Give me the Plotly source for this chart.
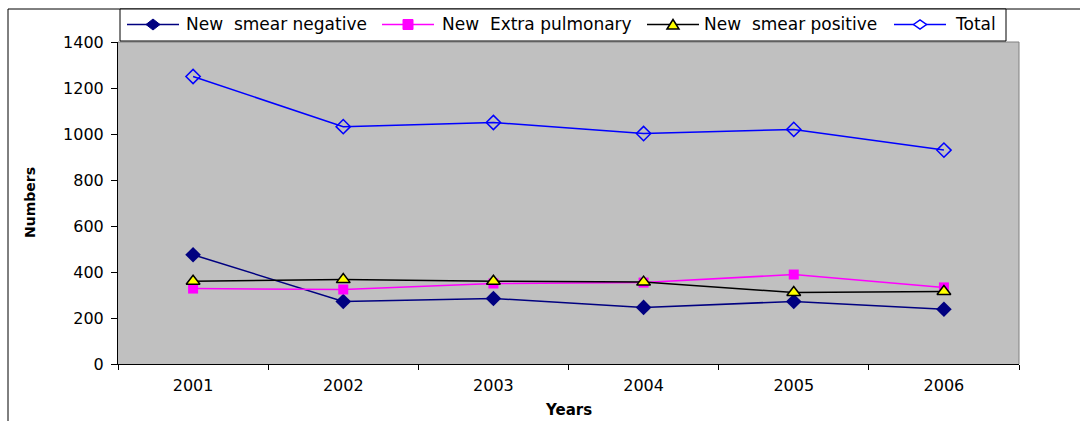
import plotly.graph_objects as go

years = ["2001", "2002", "2003", "2004", "2005", "2006"]
smear_negative = [475, 272, 285, 246, 272, 238]
extra_pulmonary = [328, 324, 350, 354, 389, 333]
smear_positive = [360, 367, 360, 356, 311, 315]
total = [1250, 1032, 1050, 1002, 1020, 930]
y_ticks = [0, 200, 400, 600, 800, 1000, 1200, 1400]
series_names = ["New  smear negative", "New  Extra pulmonary", "New  smear positive", "Total"]

W, H = 1080, 421
L, R, T, B = 118, 61, 42, 57
pw = W - L - R
ph = H - T - B

def px(x):
    return (x - L) / pw

def py(y):
    return (H - B - y) / ph

FONT = "DejaVu Sans, Verdana, sans-serif"

colors = ["#000080", "#FF00FF", "#000000", "#0000FF"]

fig = go.Figure()
fig.add_trace(go.Scatter(
    x=years, y=smear_negative, name=series_names[0], mode="lines+markers",
    line=dict(color=colors[0], width=1.5),
    marker=dict(symbol="diamond", size=12, color=colors[0])))
fig.add_trace(go.Scatter(
    x=years, y=extra_pulmonary, name=series_names[1], mode="lines+markers",
    line=dict(color=colors[1], width=1.5),
    marker=dict(symbol="square", size=10, color=colors[1])))
fig.add_trace(go.Scatter(
    x=years, y=smear_positive, name=series_names[2], mode="lines+markers",
    line=dict(color=colors[2], width=1.5),
    marker=dict(symbol="triangle-up", size=12, color="#FFFF00",
                line=dict(color="#000000", width=1.5))))
fig.add_trace(go.Scatter(
    x=years, y=total, name=series_names[3], mode="lines+markers",
    line=dict(color=colors[3], width=1.5),
    marker=dict(symbol="diamond-open", size=11, color=colors[3],
                line=dict(width=1.5))))

shapes = [
    # outer frame (left and top)
    dict(type="line", xref="paper", yref="paper", x0=px(8), x1=px(8), y0=py(9), y1=py(H + 2),
         line=dict(color="black", width=1)),
    dict(type="line", xref="paper", yref="paper", x0=px(8), x1=px(W + 2), y0=py(9), y1=py(9),
         line=dict(color="black", width=1)),
    # plot area top/right edges
    dict(type="line", xref="paper", yref="paper", x0=0, x1=1, y0=1, y1=1,
         line=dict(color="#808080", width=1)),
    dict(type="line", xref="paper", yref="paper", x0=1, x1=1, y0=0, y1=1,
         line=dict(color="#808080", width=1)),
    # legend box
    dict(type="rect", xref="paper", yref="paper", x0=px(120), x1=px(1006), y0=py(41), y1=py(9),
         line=dict(color="black", width=1), fillcolor="white"),
]

# custom legend (symbol line start px, text start px)
leg_y = 24.5
leg_items = [(127, 186), (382, 442), (647, 704), (894, 955)]
marker_paths = [
    "M -7 0 L 0 5.5 L 7 0 L 0 -5.5 Z",        # filled diamond
    "M -5 -5 L 5 -5 L 5 5 L -5 5 Z",          # square
    "M -6 -4.5 L 0 5 L 6 -4.5 Z",             # triangle up
    "M -6.5 0 L 0 4.5 L 6.5 0 L 0 -4.5 Z",    # open diamond
]
marker_fill = [colors[0], colors[1], "#FFFF00", "white"]
marker_line = [colors[0], colors[1], "#000000", colors[3]]
marker_lw = [1, 1, 1.5, 1.5]

annotations = []
for i, (ls, ts) in enumerate(leg_items):
    shapes.append(dict(type="line", xref="paper", yref="paper",
                       x0=px(ls), x1=px(ls + 52), y0=py(leg_y), y1=py(leg_y),
                       line=dict(color=colors[i], width=1.5)))
    shapes.append(dict(type="path", xref="paper", yref="paper",
                       xsizemode="pixel", ysizemode="pixel",
                       xanchor=px(ls + 26), yanchor=py(leg_y),
                       path=marker_paths[i], fillcolor=marker_fill[i],
                       line=dict(color=marker_line[i], width=marker_lw[i])))
    annotations.append(dict(text=series_names[i], xref="paper", yref="paper",
                            x=px(ts - 2), y=py(leg_y), xanchor="left", yanchor="middle",
                            showarrow=False, font=dict(family=FONT, size=17, color="black")))

annotations += [
    dict(text="<b>Numbers</b>", xref="paper", yref="paper", x=px(30), y=0.5,
         textangle=-90, showarrow=False, font=dict(family=FONT, size=14, color="black"),
         xanchor="center", yanchor="middle"),
    dict(text="<b>Years</b>", xref="paper", yref="paper", x=px(568), y=py(410),
         showarrow=False, font=dict(family=FONT, size=15, color="black"),
         xanchor="center", yanchor="middle"),
]

fig.update_layout(
    width=W, height=H,
    margin=dict(l=L, r=R, t=T, b=B),
    paper_bgcolor="white",
    plot_bgcolor="#C0C0C0",
    font=dict(family=FONT, size=16, color="black"),
    showlegend=False,
    shapes=shapes,
    annotations=annotations,
    xaxis=dict(type="category", range=[-0.5, 5.5], showgrid=False, zeroline=False,
               showline=True, linecolor="black", linewidth=1,
               ticks="outside", tickson="boundaries", ticklen=5, tickcolor="black",
               ticklabelstandoff=7,
               tickfont=dict(family=FONT, size=16, color="black")),
    yaxis=dict(range=[0, 1400], tickvals=y_ticks, showgrid=False, zeroline=False,
               showline=True, linecolor="black", linewidth=1,
               ticks="outside", ticklen=6, tickcolor="black",
               ticklabelstandoff=4,
               tickfont=dict(family=FONT, size=16, color="black")),
)

fig.write_html("out.html", config={"displayModeBar": False},
               post_script="document.body.style.margin='0px';")
